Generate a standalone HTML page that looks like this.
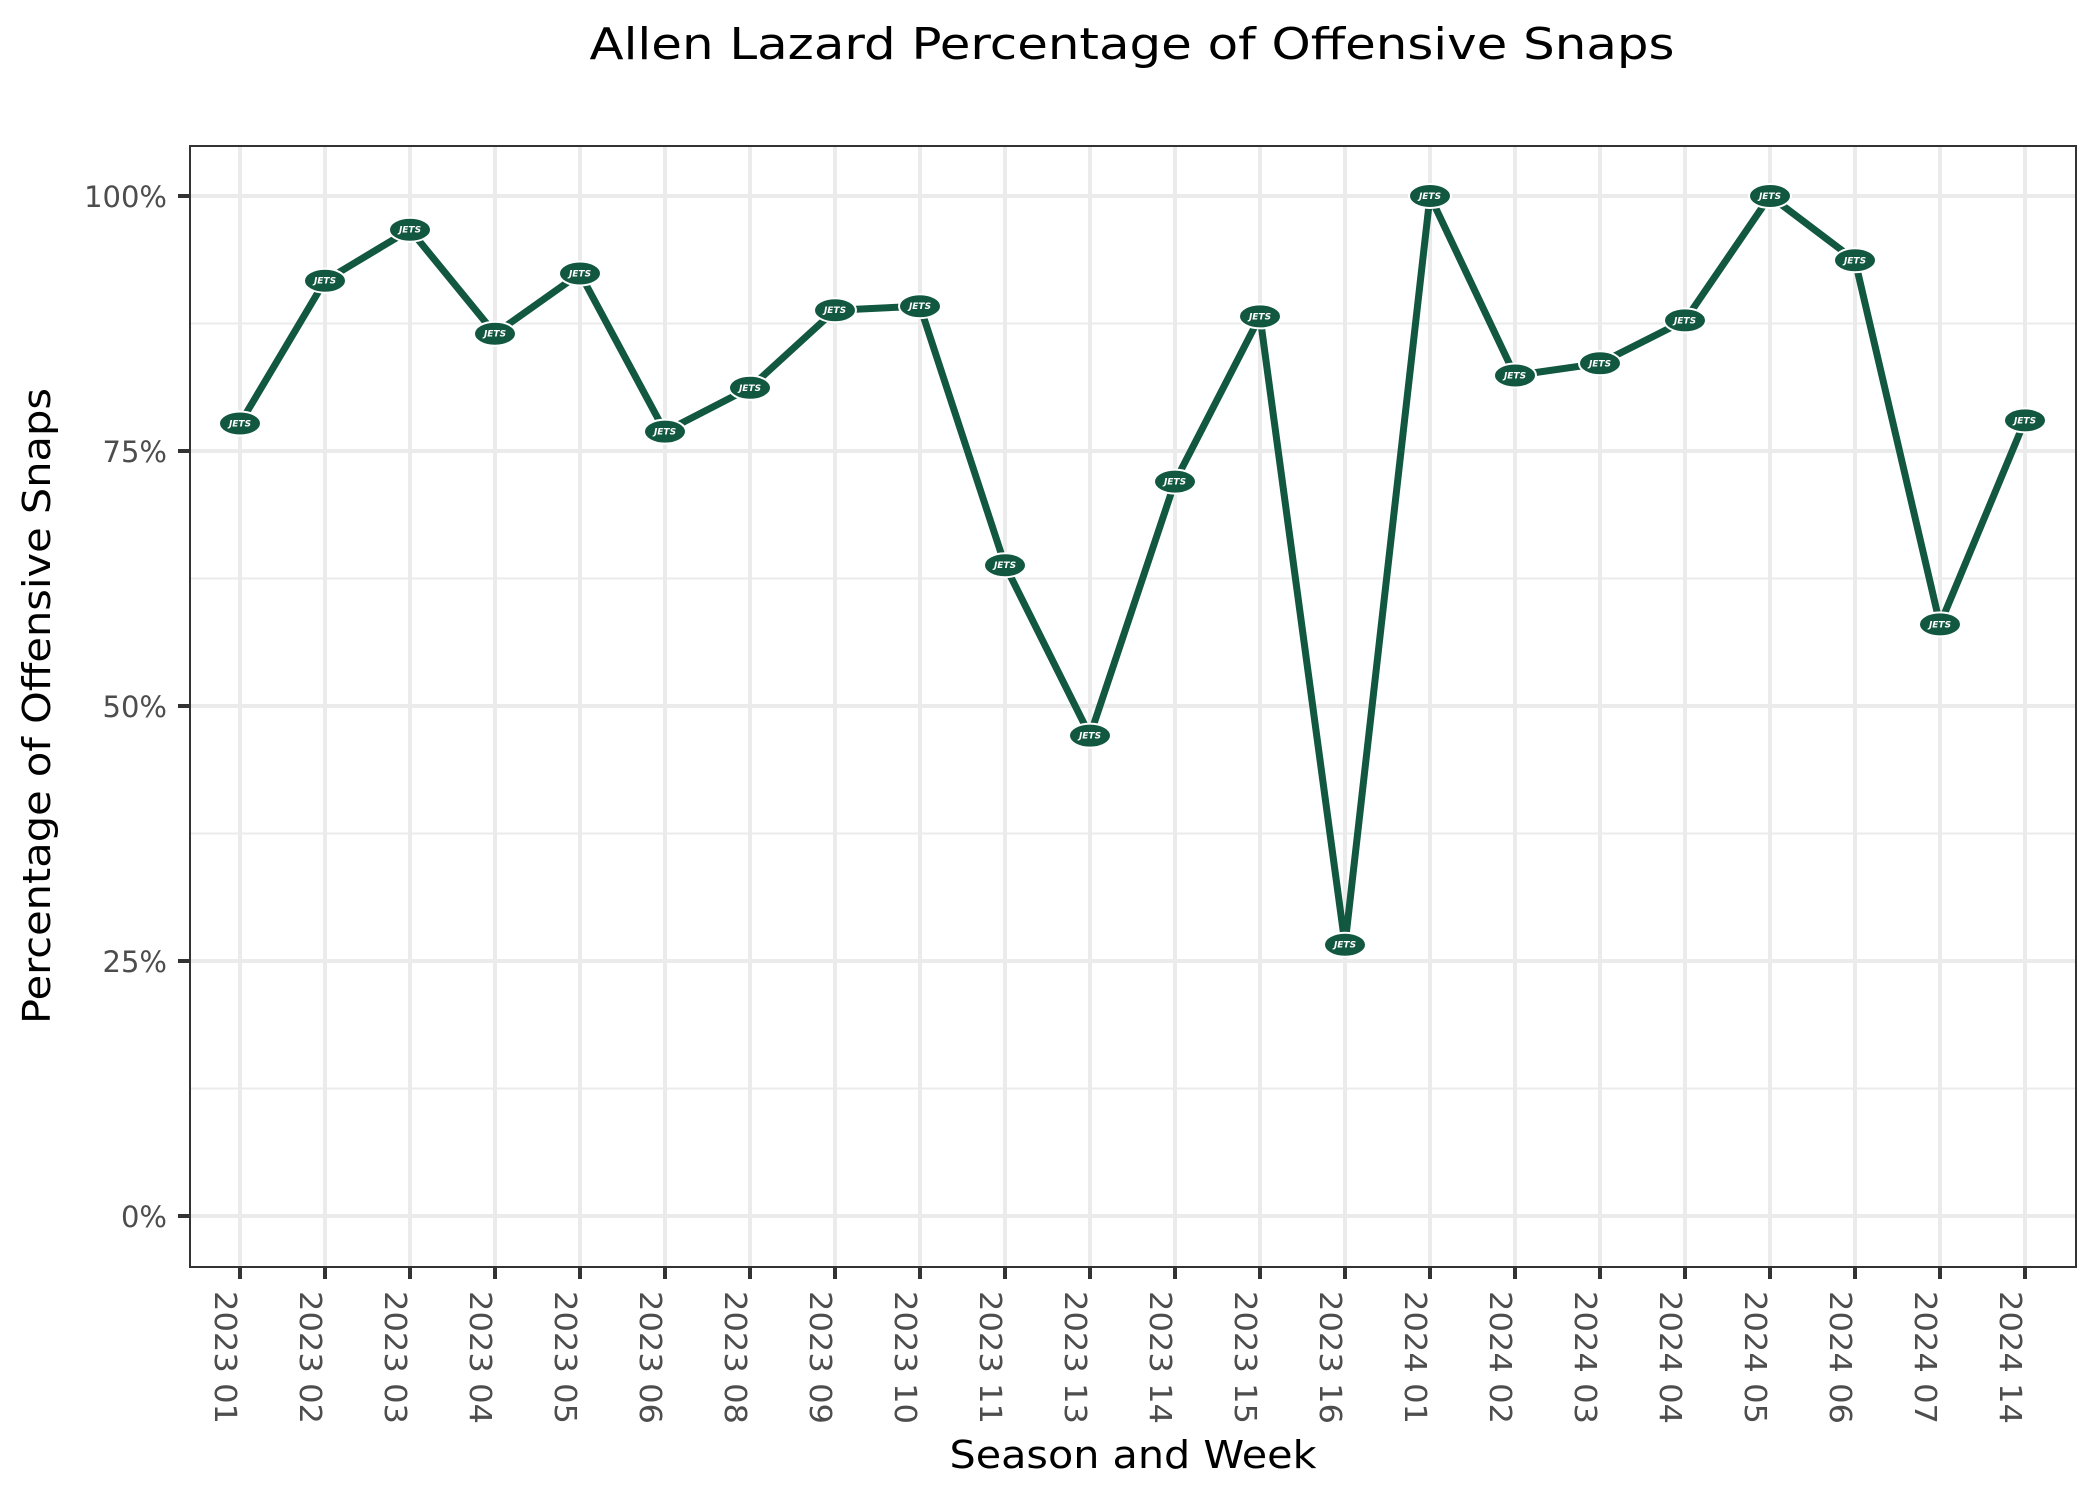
<!DOCTYPE html>
<html><head><meta charset="utf-8"><style>
html,body{margin:0;padding:0;background:#fff;}
svg{display:block;font-family:"DejaVu Sans","Liberation Sans",sans-serif;}
</style></head><body>
<svg width="2100" height="1500" viewBox="0 0 2100 1500" xmlns="http://www.w3.org/2000/svg">
<rect width="2100" height="1500" fill="#fff"/>
<text x="1132" y="59" font-size="44" text-anchor="middle" textLength="1085" lengthAdjust="spacingAndGlyphs" fill="#000">Allen Lazard Percentage of Offensive Snaps</text>
<g stroke="#ebebeb" stroke-width="2">
<line x1="190" x2="2076" y1="1088.5" y2="1088.5"/><line x1="190" x2="2076" y1="833.5" y2="833.5"/><line x1="190" x2="2076" y1="578.5" y2="578.5"/><line x1="190" x2="2076" y1="323.5" y2="323.5"/>
</g>
<g stroke="#ebebeb" stroke-width="4">
<line x1="190" x2="2076" y1="1216" y2="1216"/><line x1="190" x2="2076" y1="961" y2="961"/><line x1="190" x2="2076" y1="706" y2="706"/><line x1="190" x2="2076" y1="451" y2="451"/><line x1="190" x2="2076" y1="196" y2="196"/>
<line x1="240" x2="240" y1="146" y2="1267"/><line x1="325" x2="325" y1="146" y2="1267"/><line x1="410" x2="410" y1="146" y2="1267"/><line x1="495" x2="495" y1="146" y2="1267"/><line x1="580" x2="580" y1="146" y2="1267"/><line x1="665" x2="665" y1="146" y2="1267"/><line x1="750" x2="750" y1="146" y2="1267"/><line x1="835" x2="835" y1="146" y2="1267"/><line x1="920" x2="920" y1="146" y2="1267"/><line x1="1005" x2="1005" y1="146" y2="1267"/><line x1="1090" x2="1090" y1="146" y2="1267"/><line x1="1175" x2="1175" y1="146" y2="1267"/><line x1="1260" x2="1260" y1="146" y2="1267"/><line x1="1345" x2="1345" y1="146" y2="1267"/><line x1="1430" x2="1430" y1="146" y2="1267"/><line x1="1515" x2="1515" y1="146" y2="1267"/><line x1="1600" x2="1600" y1="146" y2="1267"/><line x1="1685" x2="1685" y1="146" y2="1267"/><line x1="1770" x2="1770" y1="146" y2="1267"/><line x1="1855" x2="1855" y1="146" y2="1267"/><line x1="1940" x2="1940" y1="146" y2="1267"/><line x1="2025" x2="2025" y1="146" y2="1267"/>
</g>
<polyline fill="none" stroke="#125740" stroke-width="7" stroke-linejoin="round" points="240,423.5 325,280.7 410,229.7 495,333.7 580,273.5 665,431.6 750,387.8 835,310.2 920,306.2 1005,565.2 1090,735.6 1175,481.6 1260,316.4 1345,944.7 1430,196 1515,375.5 1600,363.3 1685,320.4 1770,196 1855,260.3 1940,624.4 2025,420.4"/>
<g fill="#125740" stroke="#fff" stroke-width="2">
<ellipse cx="240" cy="423.5" rx="21" ry="12"/><ellipse cx="325" cy="280.7" rx="21" ry="12"/><ellipse cx="410" cy="229.7" rx="21" ry="12"/><ellipse cx="495" cy="333.7" rx="21" ry="12"/><ellipse cx="580" cy="273.5" rx="21" ry="12"/><ellipse cx="665" cy="431.6" rx="21" ry="12"/><ellipse cx="750" cy="387.8" rx="21" ry="12"/><ellipse cx="835" cy="310.2" rx="21" ry="12"/><ellipse cx="920" cy="306.2" rx="21" ry="12"/><ellipse cx="1005" cy="565.2" rx="21" ry="12"/><ellipse cx="1090" cy="735.6" rx="21" ry="12"/><ellipse cx="1175" cy="481.6" rx="21" ry="12"/><ellipse cx="1260" cy="316.4" rx="21" ry="12"/><ellipse cx="1345" cy="944.7" rx="21" ry="12"/><ellipse cx="1430" cy="196" rx="21" ry="12"/><ellipse cx="1515" cy="375.5" rx="21" ry="12"/><ellipse cx="1600" cy="363.3" rx="21" ry="12"/><ellipse cx="1685" cy="320.4" rx="21" ry="12"/><ellipse cx="1770" cy="196" rx="21" ry="12"/><ellipse cx="1855" cy="260.3" rx="21" ry="12"/><ellipse cx="1940" cy="624.4" rx="21" ry="12"/><ellipse cx="2025" cy="420.4" rx="21" ry="12"/>
</g>
<g fill="#fff" font-size="9" font-weight="bold" font-style="italic" text-anchor="middle">
<text x="240" y="426.5">JETS</text><text x="325" y="283.7">JETS</text><text x="410" y="232.7">JETS</text><text x="495" y="336.7">JETS</text><text x="580" y="276.5">JETS</text><text x="665" y="434.6">JETS</text><text x="750" y="390.8">JETS</text><text x="835" y="313.2">JETS</text><text x="920" y="309.2">JETS</text><text x="1005" y="568.2">JETS</text><text x="1090" y="738.6">JETS</text><text x="1175" y="484.6">JETS</text><text x="1260" y="319.4">JETS</text><text x="1345" y="947.7">JETS</text><text x="1430" y="199">JETS</text><text x="1515" y="378.5">JETS</text><text x="1600" y="366.3">JETS</text><text x="1685" y="323.4">JETS</text><text x="1770" y="199">JETS</text><text x="1855" y="263.3">JETS</text><text x="1940" y="627.4">JETS</text><text x="2025" y="423.4">JETS</text>
</g>
<rect x="190" y="146" width="1886" height="1121" fill="none" stroke="#333" stroke-width="2"/>
<g stroke="#333" stroke-width="4">
<line x1="178" x2="190" y1="1216" y2="1216"/><line x1="178" x2="190" y1="961" y2="961"/><line x1="178" x2="190" y1="706" y2="706"/><line x1="178" x2="190" y1="451" y2="451"/><line x1="178" x2="190" y1="196" y2="196"/>
<line x1="240" x2="240" y1="1267" y2="1279"/><line x1="325" x2="325" y1="1267" y2="1279"/><line x1="410" x2="410" y1="1267" y2="1279"/><line x1="495" x2="495" y1="1267" y2="1279"/><line x1="580" x2="580" y1="1267" y2="1279"/><line x1="665" x2="665" y1="1267" y2="1279"/><line x1="750" x2="750" y1="1267" y2="1279"/><line x1="835" x2="835" y1="1267" y2="1279"/><line x1="920" x2="920" y1="1267" y2="1279"/><line x1="1005" x2="1005" y1="1267" y2="1279"/><line x1="1090" x2="1090" y1="1267" y2="1279"/><line x1="1175" x2="1175" y1="1267" y2="1279"/><line x1="1260" x2="1260" y1="1267" y2="1279"/><line x1="1345" x2="1345" y1="1267" y2="1279"/><line x1="1430" x2="1430" y1="1267" y2="1279"/><line x1="1515" x2="1515" y1="1267" y2="1279"/><line x1="1600" x2="1600" y1="1267" y2="1279"/><line x1="1685" x2="1685" y1="1267" y2="1279"/><line x1="1770" x2="1770" y1="1267" y2="1279"/><line x1="1855" x2="1855" y1="1267" y2="1279"/><line x1="1940" x2="1940" y1="1267" y2="1279"/><line x1="2025" x2="2025" y1="1267" y2="1279"/>
</g>
<g fill="#4d4d4d" font-size="29" text-anchor="end">
<text x="167" y="1227">0%</text><text x="167" y="972">25%</text><text x="167" y="717">50%</text><text x="167" y="462">75%</text><text x="167" y="207">100%</text>
</g>
<g fill="#4d4d4d" font-size="30">
<text transform="translate(215,1291) rotate(90)" textLength="133" lengthAdjust="spacingAndGlyphs">2023 01</text>
<text transform="translate(300,1291) rotate(90)" textLength="133" lengthAdjust="spacingAndGlyphs">2023 02</text>
<text transform="translate(385,1291) rotate(90)" textLength="133" lengthAdjust="spacingAndGlyphs">2023 03</text>
<text transform="translate(470,1291) rotate(90)" textLength="133" lengthAdjust="spacingAndGlyphs">2023 04</text>
<text transform="translate(555,1291) rotate(90)" textLength="133" lengthAdjust="spacingAndGlyphs">2023 05</text>
<text transform="translate(640,1291) rotate(90)" textLength="133" lengthAdjust="spacingAndGlyphs">2023 06</text>
<text transform="translate(725,1291) rotate(90)" textLength="133" lengthAdjust="spacingAndGlyphs">2023 08</text>
<text transform="translate(810,1291) rotate(90)" textLength="133" lengthAdjust="spacingAndGlyphs">2023 09</text>
<text transform="translate(895,1291) rotate(90)" textLength="133" lengthAdjust="spacingAndGlyphs">2023 10</text>
<text transform="translate(980,1291) rotate(90)" textLength="133" lengthAdjust="spacingAndGlyphs">2023 11</text>
<text transform="translate(1065,1291) rotate(90)" textLength="133" lengthAdjust="spacingAndGlyphs">2023 13</text>
<text transform="translate(1150,1291) rotate(90)" textLength="133" lengthAdjust="spacingAndGlyphs">2023 14</text>
<text transform="translate(1235,1291) rotate(90)" textLength="133" lengthAdjust="spacingAndGlyphs">2023 15</text>
<text transform="translate(1320,1291) rotate(90)" textLength="133" lengthAdjust="spacingAndGlyphs">2023 16</text>
<text transform="translate(1405,1291) rotate(90)" textLength="133" lengthAdjust="spacingAndGlyphs">2024 01</text>
<text transform="translate(1490,1291) rotate(90)" textLength="133" lengthAdjust="spacingAndGlyphs">2024 02</text>
<text transform="translate(1575,1291) rotate(90)" textLength="133" lengthAdjust="spacingAndGlyphs">2024 03</text>
<text transform="translate(1660,1291) rotate(90)" textLength="133" lengthAdjust="spacingAndGlyphs">2024 04</text>
<text transform="translate(1745,1291) rotate(90)" textLength="133" lengthAdjust="spacingAndGlyphs">2024 05</text>
<text transform="translate(1830,1291) rotate(90)" textLength="133" lengthAdjust="spacingAndGlyphs">2024 06</text>
<text transform="translate(1915,1291) rotate(90)" textLength="133" lengthAdjust="spacingAndGlyphs">2024 07</text>
<text transform="translate(2000,1291) rotate(90)" textLength="133" lengthAdjust="spacingAndGlyphs">2024 14</text>
</g>
<text x="1133" y="1468" font-size="38" text-anchor="middle" textLength="367" lengthAdjust="spacingAndGlyphs" fill="#000">Season and Week</text>
<text transform="translate(50,706) rotate(-90)" font-size="38" text-anchor="middle" textLength="636" lengthAdjust="spacingAndGlyphs" fill="#000">Percentage of Offensive Snaps</text>
</svg>
</body></html>
